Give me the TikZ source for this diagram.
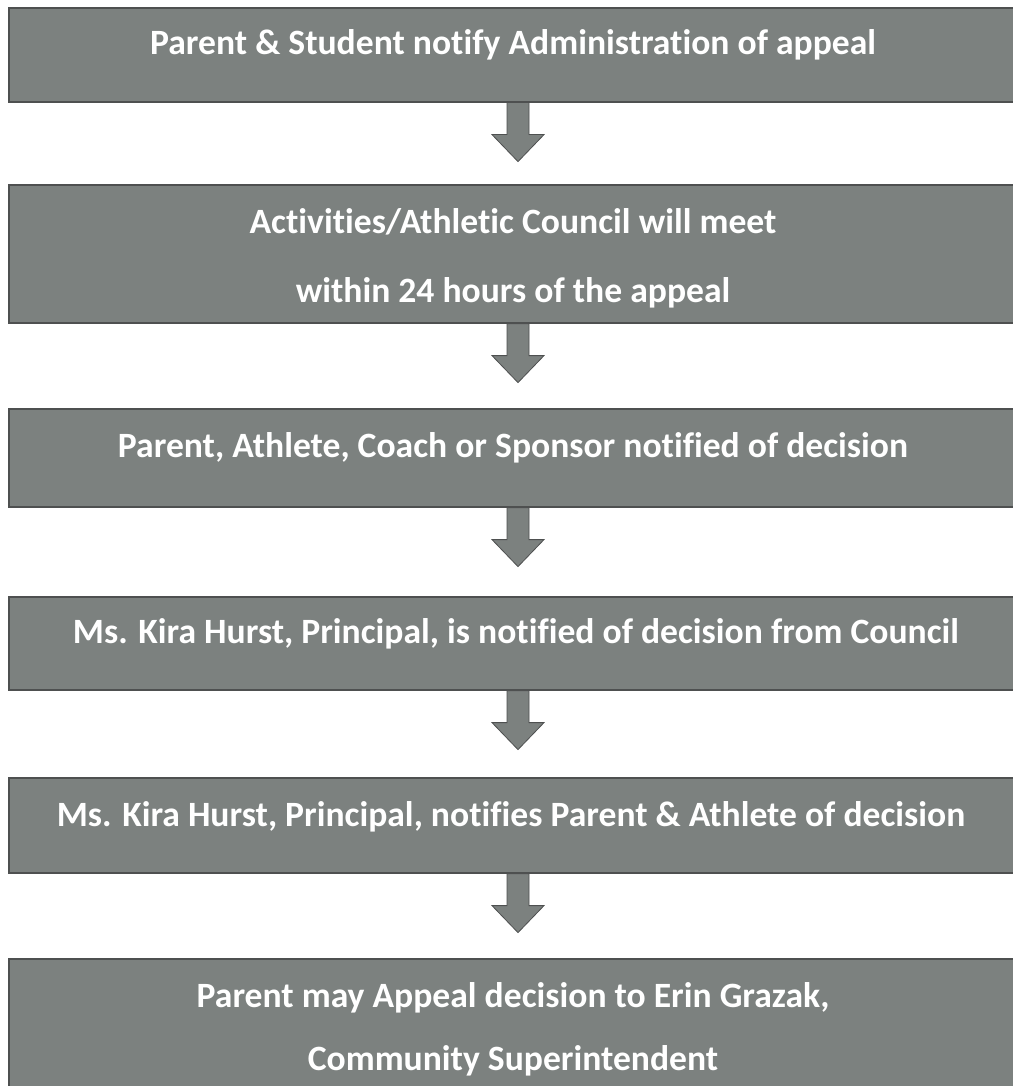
\documentclass[tikz,border=0pt]{standalone}
\usepackage{fontspec}
\setmainfont{Carlito}[Ligatures=NoCommon]
\usetikzlibrary{calc}
\definecolor{boxgray}{RGB}{124,129,127}
\definecolor{edgegray}{RGB}{78,80,80}
\newcommand{\flowarrow}[1]{%
  \filldraw[arr] ($(#1.south -| ax)+(-11,0)$) -- ++(0,32) -- ++(-15,0)
    -- ($(#1.south -| ax)+(0,59)$) -- ++(26,-27) -- ++(-15,0) -- ++(0,-32) -- cycle;}
\begin{document}
\begin{tikzpicture}[x=1pt,y=-1pt,
  box/.style={draw=edgegray, line width=1.6pt, fill=boxgray, rectangle,
    minimum width=1016pt, inner sep=0pt, anchor=north west},
  txt/.style={text=white, font=\fontsize{35.6}{36}\selectfont\bfseries, inner sep=0pt, anchor=base},
  arr/.style={fill=boxgray, draw=edgegray, line width=0.8pt, line join=miter}]
\useasboundingbox[fill=white] (0,0) rectangle (1012,1086);
\coordinate (ax) at (518,0);
\node[box, minimum height=94pt]  (b1) at (8,7) {};
\node[box, minimum height=138pt] (b2) at (8,184) {};
\node[box, minimum height=98pt]  (b3) at (8,408) {};
\node[box, minimum height=93pt]  (b4) at (8,596) {};
\node[box, minimum height=95pt]  (b5) at (8,777) {};
\node[box, minimum height=140pt] (b6) at (8,958) {};
\node[txt] (t1) at (513,55) {Parent \& Student notify Administration of appeal};
\node[txt] (t2a) at (513,233) {Activities/Athletic Council will meet};
\node[txt] (t2b) at (513,302) {within 24 hours of the appeal};
\node[txt] (t3) at (513,457) {Parent, Athlete, Coach or Sponsor notified of decision};
\node[txt] (t4) at (516,643) {Ms. Kira Hurst, Principal, is notified of decision from Council};
\node[txt] (t5) at (511,826) {Ms. Kira Hurst, Principal, notifies Parent \& Athlete of decision};
\node[txt] (t6a) at (513,1007) {Parent may Appeal decision to Erin Grazak,};
\node[txt] (t6b) at (513,1070) {Community Superintendent};
\flowarrow{b1}
\flowarrow{b2}
\flowarrow{b3}
\flowarrow{b4}
\flowarrow{b5}
\end{tikzpicture}
\end{document}
